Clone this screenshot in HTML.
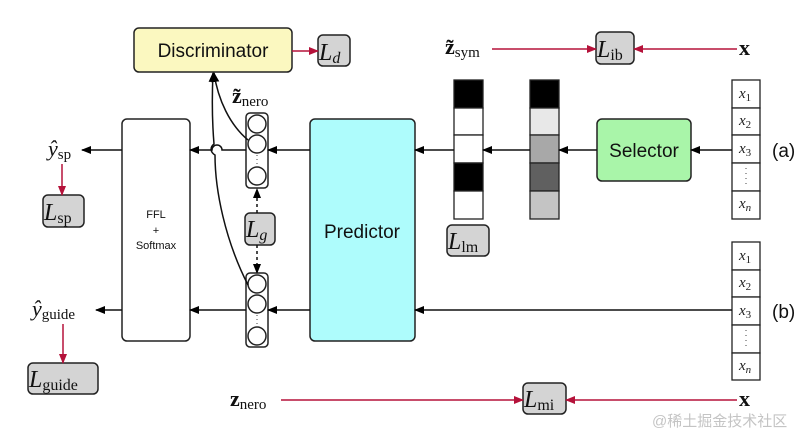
<!DOCTYPE html>
<html><head><meta charset="utf-8"><style>
html,body{margin:0;padding:0;background:#fff}
svg{display:block}
text{font-family:"Liberation Serif",serif}
.s{font-family:"Liberation Sans",sans-serif}
</style></head><body>
<svg width="811" height="438" viewBox="0 0 811 438" xmlns="http://www.w3.org/2000/svg">
<defs>
<marker id="ab" markerWidth="10" markerHeight="8" refX="9" refY="4" orient="auto" markerUnits="userSpaceOnUse"><path d="M0,0 L10,4 L0,8 z" fill="#000"/></marker>
<marker id="ar" markerWidth="10" markerHeight="8" refX="9" refY="4" orient="auto" markerUnits="userSpaceOnUse"><path d="M0,0 L10,4 L0,8 z" fill="#b5123a"/></marker>
</defs>
<g stroke="#222" stroke-width="1.5">
<rect x="134" y="28" width="158" height="44" rx="5" fill="#fbf8c0"/>
<rect x="122" y="119" width="68" height="222" rx="5" fill="#fff"/>
<rect x="310" y="119" width="105" height="222" rx="5" fill="#aefcfc"/>
<rect x="597" y="119" width="94" height="62" rx="5" fill="#a9f5a9"/>
<rect x="318" y="35" width="32" height="31" rx="5" fill="#d4d4d4"/>
<rect x="596" y="32" width="38" height="32" rx="5" fill="#d4d4d4"/>
<rect x="43" y="195" width="41" height="32" rx="5" fill="#d4d4d4"/>
<rect x="245" y="213" width="30" height="32" rx="5" fill="#d4d4d4"/>
<rect x="447" y="225" width="42" height="31" rx="5" fill="#d4d4d4"/>
<rect x="28" y="363" width="70" height="31" rx="5" fill="#d4d4d4"/>
<rect x="523" y="383" width="43" height="31" rx="5" fill="#d4d4d4"/>
<rect x="246" y="113" width="22" height="75" rx="4" fill="#fff"/>
<rect x="246" y="273" width="22" height="74" rx="4" fill="#fff"/>
<circle cx="257" cy="124" r="9" fill="#fff"/><circle cx="257" cy="144" r="9" fill="#fff"/><circle cx="257" cy="176" r="9" fill="#fff"/>
<circle cx="257" cy="284" r="9" fill="#fff"/><circle cx="257" cy="304" r="9" fill="#fff"/><circle cx="257" cy="336" r="9" fill="#fff"/>
</g>
<g stroke="#444" stroke-width="1" stroke-dasharray="1,3"><line x1="257" y1="155" x2="257" y2="166"/><line x1="257" y1="315" x2="257" y2="326"/></g>
<g stroke="#222" stroke-width="1.3">
<rect x="454" y="80" width="29" height="28" fill="#000"/><rect x="454" y="108" width="29" height="27" fill="#fff"/><rect x="454" y="135" width="29" height="28" fill="#fff"/><rect x="454" y="163" width="29" height="28" fill="#000"/><rect x="454" y="191" width="29" height="28" fill="#fff"/>
<rect x="530" y="80" width="29" height="28" fill="#000"/><rect x="530" y="108" width="29" height="27" fill="#e8e8e8"/><rect x="530" y="135" width="29" height="28" fill="#a8a8a8"/><rect x="530" y="163" width="29" height="28" fill="#606060"/><rect x="530" y="191" width="29" height="28" fill="#c4c4c4"/>
<rect x="732" y="80" width="28" height="28" fill="#fff"/><rect x="732" y="108" width="28" height="27" fill="#fff"/><rect x="732" y="135" width="28" height="28" fill="#fff"/><rect x="732" y="163" width="28" height="28" fill="#fff"/><rect x="732" y="191" width="28" height="28" fill="#fff"/>
<rect x="732" y="242" width="28" height="28" fill="#fff"/><rect x="732" y="270" width="28" height="27" fill="#fff"/><rect x="732" y="297" width="28" height="28" fill="#fff"/><rect x="732" y="325" width="28" height="28" fill="#fff"/><rect x="732" y="353" width="28" height="27" fill="#fff"/>
</g>
<g font-size="15" font-style="italic" fill="#222">
<text x="739" y="98">x<tspan font-size="11" font-style="normal" dy="3">1</tspan></text>
<text x="739" y="125">x<tspan font-size="11" font-style="normal" dy="3">2</tspan></text>
<text x="739" y="153">x<tspan font-size="11" font-style="normal" dy="3">3</tspan></text>
<text x="739" y="208">x<tspan font-size="11" dy="3">n</tspan></text>
<text x="739" y="260">x<tspan font-size="11" font-style="normal" dy="3">1</tspan></text>
<text x="739" y="287">x<tspan font-size="11" font-style="normal" dy="3">2</tspan></text>
<text x="739" y="315">x<tspan font-size="11" font-style="normal" dy="3">3</tspan></text>
<text x="739" y="370">x<tspan font-size="11" dy="3">n</tspan></text>
</g>
<g stroke="#444" stroke-dasharray="1,4"><line x1="746" y1="168" x2="746" y2="188"/><line x1="746" y1="330" x2="746" y2="350"/></g>
<g stroke="#111" stroke-width="1.5" fill="none" marker-end="url(#ab)">
<line x1="122" y1="150" x2="82" y2="150"/>
<path d="M246,150 L222,150 A5,5 0 0 0 212,150 L190,150"/>
<line x1="310" y1="150" x2="268" y2="150"/>
<line x1="122" y1="310" x2="96" y2="310"/>
<line x1="246" y1="310" x2="190" y2="310"/>
<line x1="310" y1="310" x2="268" y2="310"/>
<line x1="732" y1="150" x2="691" y2="150"/>
<line x1="597" y1="150" x2="559" y2="150"/>
<line x1="530" y1="150" x2="483" y2="150"/>
<line x1="454" y1="150" x2="415" y2="150"/>
<line x1="732" y1="310" x2="415" y2="310"/>
<path d="M248,140 C230,125 218,100 214,73"/>
<path d="M248,285 C225,240 215,190 215,155 C210,152 210,147 214,144 C212,120 212,95 213,73"/>
<line x1="257" y1="213" x2="257" y2="189" stroke-dasharray="3,3"/>
<line x1="257" y1="245" x2="257" y2="273" stroke-dasharray="3,3"/>
</g>
<g stroke="#b5123a" stroke-width="1.5" marker-end="url(#ar)">
<line x1="292" y1="51" x2="318" y2="51"/>
<line x1="492" y1="49" x2="596" y2="49"/>
<line x1="737" y1="49" x2="634" y2="49"/>
<line x1="62" y1="164" x2="62" y2="195"/>
<line x1="63" y1="324" x2="63" y2="363"/>
<line x1="281" y1="400" x2="523" y2="400"/>
<line x1="737" y1="400" x2="566" y2="400"/>
</g>
<g class="s" fill="#111">
<text class="s" x="213" y="57" font-size="19" text-anchor="middle">Discriminator</text>
<text class="s" x="362" y="238" font-size="19" text-anchor="middle">Predictor</text>
<text class="s" x="644" y="157" font-size="19" text-anchor="middle">Selector</text>
<text class="s" x="156" y="218" font-size="11" text-anchor="middle">FFL</text>
<text class="s" x="156" y="234" font-size="11" text-anchor="middle">+</text>
<text class="s" x="156" y="249" font-size="11" text-anchor="middle">Softmax</text>
<text class="s" x="772" y="157" font-size="19">(a)</text>
<text class="s" x="772" y="318" font-size="19">(b)</text>
</g>
<g fill="#111" font-size="24">
<text x="319" y="60" font-style="italic">L<tspan font-size="16" dy="3">d</tspan></text>
<text x="597" y="57" font-style="italic">L<tspan font-size="16" dy="3" font-style="normal">ib</tspan></text>
<text x="44" y="220" font-style="italic">L<tspan font-size="16" dy="3" font-style="normal">sp</tspan></text>
<text x="246" y="237" font-style="italic">L<tspan font-size="16" dy="3">g</tspan></text>
<text x="448" y="249" font-style="italic">L<tspan font-size="16" dy="3" font-style="normal">lm</tspan></text>
<text x="29" y="387" font-style="italic">L<tspan font-size="16" dy="3" font-style="normal">guide</tspan></text>
<text x="524" y="407" font-style="italic">L<tspan font-size="16" dy="3" font-style="normal">mi</tspan></text>
<text x="48" y="156" font-style="italic" font-size="22">ŷ<tspan font-size="15" dy="3" font-style="normal">sp</tspan></text>
<text x="32" y="316" font-style="italic" font-size="22">ŷ<tspan font-size="15" dy="3" font-style="normal">guide</tspan></text>
<text x="232" y="103" font-weight="bold" font-size="22">z̃<tspan font-size="15" dy="3" font-weight="normal">nero</tspan></text>
<text x="445" y="54" font-weight="bold" font-size="22">z̃<tspan font-size="15" dy="3" font-weight="normal">sym</tspan></text>
<text x="230" y="406" font-weight="bold" font-size="22">z<tspan font-size="15" dy="3" font-weight="normal">nero</tspan></text>
<text x="739" y="55" font-weight="bold" font-size="22">x</text>
<text x="739" y="406" font-weight="bold" font-size="22">x</text>
</g>
<text x="652" y="426" font-size="15" fill="#c4c4c4" style="font-family:'Liberation Sans','Noto Sans CJK SC',sans-serif">@稀土掘金技术社区</text>
</svg>
</body></html>
